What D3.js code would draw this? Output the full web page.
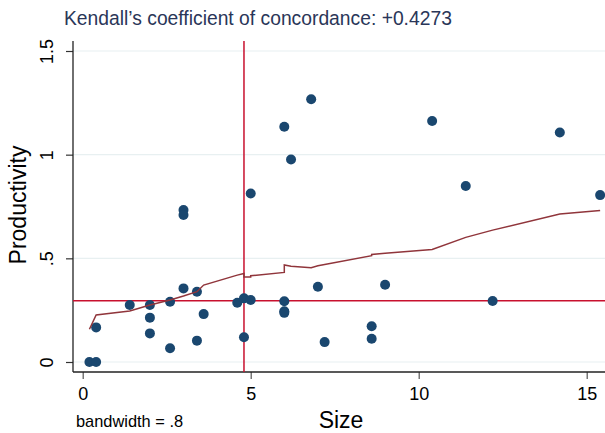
<!DOCTYPE html>
<html>
<head>
	<meta charset="utf-8">
	<title>Kendall</title>
	<script src="https://cdn.jsdelivr.net/npm/d3@7"></script>
	<style>
		body { margin: 0; background: #fff; }
		text { font-family: "Liberation Sans", Arial, sans-serif; }
	</style>
</head>
<body>
<script>
	// scatter data (Size, Productivity)
	var sizeVals = [0.2, 0.4, 0.4, 1.4, 2.0, 2.0, 2.0, 2.6, 2.6, 3.0, 3.0, 3.0, 3.4, 3.4, 3.6,
		4.6, 4.8, 4.8, 5.0, 5.0, 6.0, 6.0, 6.0, 6.0, 6.2, 6.8, 7.0, 7.2, 8.6, 8.6, 9.0,
		10.4, 11.4, 12.2, 14.2, 15.4];
	var prodVals = [0.0, 0.0, 0.167, 0.275, 0.275, 0.214, 0.138, 0.291, 0.066, 0.733, 0.709, 0.355, 0.339, 0.103, 0.231,
		0.286, 0.307, 0.119, 0.299, 0.813, 1.135, 0.293, 0.245, 0.237, 0.977, 1.267, 0.363, 0.096, 0.172, 0.112, 0.373,
		1.162, 0.849, 0.294, 1.107, 0.805];

	// lowess smooth
	var lowX = [0.2, 0.4, 1.4, 2.0, 2.6, 3.0, 3.4, 3.6, 4.6, 4.8, 4.8, 5.0, 5.0, 6.0, 6.0, 6.2, 6.8, 7.0, 7.2,
		8.6, 8.6, 9.0, 10.4, 11.4, 12.2, 14.2, 15.4];
	var lowY = [0.158, 0.227, 0.246, 0.275, 0.299, 0.318, 0.339, 0.371, 0.419, 0.427, 0.410, 0.410, 0.416, 0.432, 0.468,
		0.462, 0.455, 0.464, 0.470, 0.513, 0.519, 0.524, 0.543, 0.601, 0.636, 0.714, 0.731];

	var medianSize = 4.8;
	var medianProd = 0.295;

	var xTicks = [0, 5, 10, 15];
	var yTicks = [0, 0.5, 1, 1.5];
	var yTickLabels = ["0", ".5", "1", "1.5"];

	var width = 605, height = 433;
	// plot region edges (window.top is read-only, so no "top" here)
	var pLeft = 73, pRight = 605, pTop = 41, pBottom = 372;

	var svg = d3.select("body").append("svg")
		.attr("width", width)
		.attr("height", height);

	var x = d3.scaleLinear().domain([0, 15]).range([82.7, 586.7]);
	var y = d3.scaleLinear().domain([0, 1.5]).range([362, 51]);

	// gridlines
	svg.append("g").selectAll("line")
		.data(yTicks)
		.enter().append("line")
		.attr("x1", pLeft).attr("x2", pRight)
		.attr("y1", d => y(d)).attr("y2", d => y(d))
		.attr("stroke", "#e8f0f1").attr("stroke-width", 1.2);

	// y axis
	var yAxis = d3.axisLeft(y).tickValues(yTicks)
		.tickFormat((d, i) => yTickLabels[i]).tickSize(7).tickSizeOuter(0);
	var gy = svg.append("g").attr("transform", "translate(" + pLeft + ",0)").call(yAxis);
	gy.select(".domain").remove();
	gy.selectAll(".tick line").attr("stroke", "#333").attr("stroke-width", 1.2);
	gy.selectAll(".tick text")
		.attr("font-size", 18).attr("fill", "#000")
		.attr("transform", "rotate(-90)")
		.attr("x", 0).attr("y", -20)
		.attr("dy", 0)
		.attr("text-anchor", "middle");

	// x axis
	var xAxis = d3.axisBottom(x).tickValues(xTicks).tickSize(7).tickSizeOuter(0);
	var gx = svg.append("g").attr("transform", "translate(0," + pBottom + ")").call(xAxis);
	gx.select(".domain").remove();
	gx.selectAll(".tick line").attr("stroke", "#555").attr("stroke-width", 1.2);
	gx.selectAll(".tick text").attr("font-size", 18).attr("fill", "#000").attr("y", 28).attr("dy", 0);

	// axis lines
	svg.append("line")
		.attr("x1", pLeft).attr("x2", pLeft).attr("y1", pTop).attr("y2", pBottom)
		.attr("stroke", "#222").attr("stroke-width", 1.3);
	svg.append("line")
		.attr("x1", pLeft).attr("x2", pRight).attr("y1", pBottom).attr("y2", pBottom)
		.attr("stroke", "#222").attr("stroke-width", 1.3);

	// median reference lines
	svg.append("line")
		.attr("x1", pLeft).attr("x2", pRight)
		.attr("y1", y(medianProd)).attr("y2", y(medianProd))
		.attr("stroke", "#c8102e").attr("stroke-width", 1.5);
	svg.append("line")
		.attr("x1", x(medianSize)).attr("x2", x(medianSize))
		.attr("y1", pTop).attr("y2", pBottom)
		.attr("stroke", "#c8102e").attr("stroke-width", 1.5);

	// points
	svg.append("g").selectAll("circle")
		.data(sizeVals)
		.enter().append("circle")
		.attr("cx", d => x(d))
		.attr("cy", (d, i) => y(prodVals[i]))
		.attr("r", 5)
		.attr("fill", "#1a476f");

	// lowess line
	var line = d3.line().x(d => x(d[0])).y(d => y(d[1]));
	svg.append("path")
		.datum(lowX.map((d, i) => [d, lowY[i]]))
		.attr("d", line)
		.attr("fill", "none")
		.attr("stroke", "#90353b")
		.attr("stroke-width", 1.5);

	// titles
	svg.append("text")
		.attr("x", 64).attr("y", 24.5)
		.attr("font-size", 19.3).attr("fill", "#2a3658")
		.text("Kendall\u2019s coefficient of concordance: +0.4273");

	svg.append("text")
		.attr("transform", "translate(26,205) rotate(-90)")
		.attr("text-anchor", "middle")
		.attr("font-size", 23).attr("fill", "#000")
		.text("Productivity");

	svg.append("text")
		.attr("x", 341).attr("y", 428)
		.attr("text-anchor", "middle")
		.attr("font-size", 23).attr("fill", "#000")
		.text("Size");

	svg.append("text")
		.attr("x", 76).attr("y", 427)
		.attr("font-size", 16.4).attr("fill", "#000")
		.text("bandwidth = .8");
</script>
</body>
</html>
